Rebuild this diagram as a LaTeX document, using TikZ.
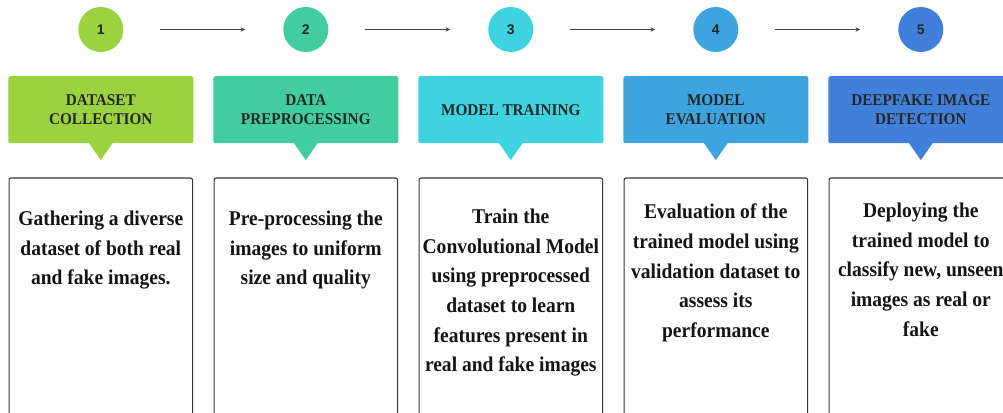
\documentclass[tikz,border=0pt]{standalone}
\usepackage{fontspec}
\setmainfont{Liberation Serif}
\newfontfamily\numfont{Liberation Sans}
\newfontfamily\tallfont[FakeStretch=0.93]{Liberation Serif}
\usepackage{tikz}
\usetikzlibrary{arrows.meta}
\definecolor{stepone}{RGB}{155,210,64}
\definecolor{steptwo}{RGB}{65,205,160}
\definecolor{stepthree}{RGB}{62,211,224}
\definecolor{stepfour}{RGB}{61,164,224}
\definecolor{stepfive}{RGB}{64,128,218}

\begin{document}
\begin{tikzpicture}[x=1pt, y=-1pt,
    stepdot/.style={circle, minimum size=45pt, inner sep=0pt, text=black!85,
        font=\numfont\bfseries\fontsize{14}{16}\selectfont},
    headbox/.style={rectangle, rounded corners=1.5pt, minimum width=185pt, minimum height=67pt,
        inner sep=0pt, align=center, text=black!85, font=\tallfont\bfseries\fontsize{16.4}{19}\selectfont},
    bodybox/.style={rectangle, draw=black!78, line width=1.1pt, rounded corners=2pt,
        minimum width=183.5pt, minimum height=260pt, inner sep=0pt},
    bodytext/.style={anchor=north, inner sep=0pt, align=center, text=black!92,
        font=\tallfont\bfseries\fontsize{21}{29.6}\selectfont},
    flowarrow/.style={-{Stealth[length=4.5pt,width=4.5pt]}, line width=1.2pt, draw=black!72,
        shorten <=36pt, shorten >=38pt}]
                \useasboundingbox (0,0) rectangle (1003,412);
                \clip (0,0) rectangle (1003,412);

                % Step 1: dataset collection
                \node[stepdot, fill=stepone] (c1) at (100.8, 29.5) {1};
                \node[headbox, fill=stepone] (h1) at (100.8, 109.7) {DATASET\\COLLECTION};
                \fill[stepone] ([xshift=-12pt, yshift=0.5pt]h1.south) -- ([xshift=12pt, yshift=0.5pt]h1.south) -- ([yshift=-16.7pt]h1.south) -- cycle;
                \node[bodybox] (b1) at (100.8, 308) {};
                \node[bodytext] (t1) at (100.8, 210.7) {Gathering a diverse\\dataset of both real\\and fake images.};

                % Step 2: data preprocessing
                \node[stepdot, fill=steptwo] (c2) at (305.8, 29.5) {2};
                \node[headbox, fill=steptwo] (h2) at (305.8, 109.7) {DATA\\PREPROCESSING};
                \fill[steptwo] ([xshift=-12pt, yshift=0.5pt]h2.south) -- ([xshift=12pt, yshift=0.5pt]h2.south) -- ([yshift=-16.7pt]h2.south) -- cycle;
                \node[bodybox] (b2) at (305.8, 308) {};
                \node[bodytext] (t2) at (305.8, 210.7) {Pre-processing the\\images to uniform\\size and quality};

                % Step 3: model training
                \node[stepdot, fill=stepthree] (c3) at (510.8, 29.5) {3};
                \node[headbox, fill=stepthree] (h3) at (510.8, 109.7) {MODEL TRAINING};
                \fill[stepthree] ([xshift=-12pt, yshift=0.5pt]h3.south) -- ([xshift=12pt, yshift=0.5pt]h3.south) -- ([yshift=-16.7pt]h3.south) -- cycle;
                \node[bodybox] (b3) at (510.8, 308) {};
                \node[bodytext] (t3) at (510.8, 209) {Train the\\Convolutional Model\\using preprocessed\\dataset to learn\\features present in\\real and fake images};

                % Step 4: model evaluation
                \node[stepdot, fill=stepfour] (c4) at (715.8, 29.5) {4};
                \node[headbox, fill=stepfour] (h4) at (715.8, 109.7) {MODEL\\EVALUATION};
                \fill[stepfour] ([xshift=-12pt, yshift=0.5pt]h4.south) -- ([xshift=12pt, yshift=0.5pt]h4.south) -- ([yshift=-16.7pt]h4.south) -- cycle;
                \node[bodybox] (b4) at (715.8, 308) {};
                \node[bodytext] (t4) at (715.8, 204) {Evaluation of the\\trained model using\\validation dataset to\\assess its\\performance};

                % Step 5: deepfake image detection
                \node[stepdot, fill=stepfive] (c5) at (920.8, 29.5) {5};
                \node[headbox, fill=stepfive] (h5) at (920.8, 109.7) {DEEPFAKE IMAGE\\DETECTION};
                \fill[stepfive] ([xshift=-12pt, yshift=0.5pt]h5.south) -- ([xshift=12pt, yshift=0.5pt]h5.south) -- ([yshift=-16.7pt]h5.south) -- cycle;
                \node[bodybox] (b5) at (920.8, 308) {};
                \node[bodytext] (t5) at (920.8, 203) {Deploying the\\trained model to\\classify new, unseen\\images as real or\\fake};

                % Flow
                \draw[flowarrow] (c1) -- (c2);
                \draw[flowarrow] (c2) -- (c3);
                \draw[flowarrow] (c3) -- (c4);
                \draw[flowarrow] (c4) -- (c5);
\end{tikzpicture}
\end{document}
